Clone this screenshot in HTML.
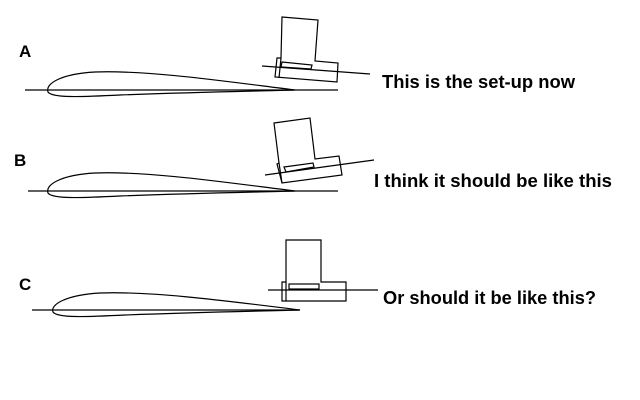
<!DOCTYPE html>
<html><head><meta charset="utf-8"><style>
html,body{margin:0;padding:0;background:#fff}
svg{display:block}
text{font-family:"Liberation Sans",Arial,sans-serif;font-weight:bold;fill:#000}
</style></head><body>
<svg width="640" height="400" viewBox="0 0 640 400" xmlns="http://www.w3.org/2000/svg">
<g fill="none" stroke="#000" stroke-width="1.2">
<!-- A -->
<line x1="25" y1="90" x2="338" y2="90"/>
<path d="M295,90 C230,82 150,70 95,72 C60,74 45,84 48,92 C52,98 80,97 120,95 C200,92 260,91 295,90 Z"/>
<polygon points="282,17 318,20 315,61 338,63 337,82 275,77 277,58 281,58"/>
<line x1="281" y1="58" x2="279" y2="78"/>
<polygon points="282,62 312,65 311,69 281,67"/>
<line x1="262" y1="66" x2="370" y2="74"/>
<!-- B -->
<line x1="28" y1="191" x2="338" y2="191"/>
<path d="M295,191 C230,183 150,171 95,173 C60,175 45,185 48,193 C52,199 80,198 120,196 C200,193 260,192 295,191 Z"/>
<polygon points="274,123 310,118 315,159 339,156 342,175 282,183 277,164 279,163"/>
<line x1="279" y1="163" x2="282" y2="183"/>
<polygon points="284,167 313,163 314,167 286,172"/>
<line x1="265" y1="175" x2="374" y2="160"/>
<!-- C -->
<line x1="32" y1="310" x2="300" y2="310"/>
<path d="M300,310 C235,302 155,291 100,293 C65,295 50,305 53,312 C57,318 85,317 125,315 C205,312 265,311 300,310 Z"/>
<polygon points="286,240 321,240 321,282 346,282 346,301 282,301 282,282 286,282"/>
<line x1="286" y1="282" x2="286" y2="301"/>
<rect x="289" y="284" width="30" height="5"/>
<line x1="268" y1="290" x2="378" y2="290"/>
</g>
<text x="19" y="57" font-size="17">A</text>
<text x="14" y="166" font-size="17">B</text>
<text x="19" y="290" font-size="17">C</text>
<text x="382" y="88" font-size="18" textLength="193" lengthAdjust="spacingAndGlyphs">This is the set-up now</text>
<text x="374" y="187" font-size="18" textLength="238" lengthAdjust="spacingAndGlyphs">I think it should be like this</text>
<text x="383" y="304" font-size="18" textLength="213" lengthAdjust="spacingAndGlyphs">Or should it be like this?</text>
</svg>
</body></html>
